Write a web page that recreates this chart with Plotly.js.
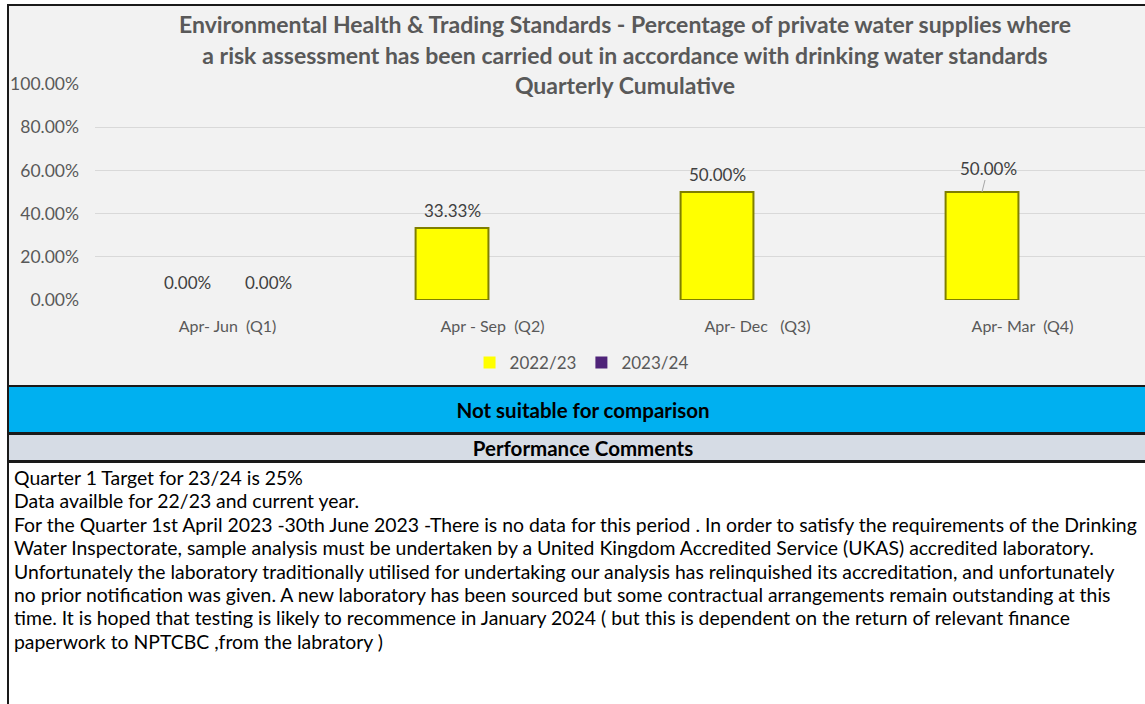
<!DOCTYPE html>
<html>
<head>
<meta charset="utf-8">
<script src="https://cdn.plot.ly/plotly-3.0.1.min.js"></script>
<style>
html,body{margin:0;padding:0;width:1145px;height:704px;overflow:hidden;background:#ffffff;font-family:Lato,"Open Sans",sans-serif;}
#box{position:absolute;left:7px;top:4px;width:1160px;height:383px;box-sizing:border-box;border:2px solid #1a1a1a;background:#f2f2f2;}
#chart{position:absolute;left:0;top:0;width:1160px;height:386px;}
#band1{position:absolute;left:7px;top:387px;width:1150px;height:48px;box-sizing:border-box;border-left:2px solid #1a1a1a;border-bottom:3px solid #1a1a1a;background:#00b0f0;display:flex;align-items:center;justify-content:center;font-weight:bold;font-size:20.5px;color:#000;}
#band2{position:absolute;left:7px;top:435px;width:1150px;height:28px;box-sizing:border-box;border-left:2px solid #1a1a1a;border-bottom:3px solid #1a1a1a;background:#d6dce5;display:flex;align-items:center;justify-content:center;font-weight:bold;font-size:20.5px;color:#000;}
#comments{position:absolute;left:7px;top:463px;width:1160px;height:260px;box-sizing:border-box;border-left:2px solid #1a1a1a;background:#fff;padding:3px 0 0 5px;font-size:19.4px;line-height:23.4px;color:#000;white-space:nowrap;}
</style>
</head>
<body>
<div id="box"></div>
<div id="chart"></div>
<div id="band1"></div>
<div id="band2"></div>
<div id="comments"></div>
<script>
// ---- data ----
const categories = ['Apr-\u00a0Jun\u00a0\u00a0(Q1)', 'Apr\u00a0-\u00a0Sep\u00a0\u00a0(Q2)', 'Apr-\u00a0Dec\u00a0\u00a0\u00a0(Q3)', 'Apr-\u00a0Mar\u00a0\u00a0(Q4)'];
const seriesNames = ['2022/23', '2023/24'];
const values2223 = [0, 0.3333, 0.5, 0.5];
const values2324 = [0, null, null, null];
const yTickVals = [0, 0.2, 0.4, 0.6, 0.8, 1.0];
const titleLines = [
  'Environmental Health &amp; Trading Standards - Percentage of private water supplies where',
  'a risk assessment has been carried out in accordance with drinking water standards',
  'Quarterly Cumulative'
];
const bandText = ['Not suitable for comparison', 'Performance Comments'];
const commentLines = [
  'Quarter 1 Target for 23/24 is 25%',
  'Data availble for 22/23 and current year.',
  'For the Quarter 1st April 2023 -30th June 2023 -There is no data for this period . In order to satisfy the requirements of the Drinking',
  'Water Inspectorate, sample analysis must be undertaken by a United Kingdom Accredited Service (UKAS) accredited laboratory.',
  'Unfortunately the laboratory traditionally utilised for undertaking our analysis has relinquished its accreditation, and unfortunately',
  'no prior notification was given. A new laboratory has been sourced but some contractual arrangements remain outstanding at this',
  'time. It is hoped that testing is likely to recommence in January 2024 ( but this is dependent on the return of relevant finance',
  'paperwork to NPTCBC ,from the labratory )'
];

document.getElementById('band1').textContent = bandText[0];
document.getElementById('band2').textContent = bandText[1];
// extend the band colours to the right edge
(function(){
  const b1 = document.createElement('div');
  b1.style.cssText = 'position:absolute;left:1157px;top:387px;width:20px;height:45px;background:#00b0f0;border-bottom:3px solid #1a1a1a;';
  const b2 = document.createElement('div');
  b2.style.cssText = 'position:absolute;left:1157px;top:435px;width:20px;height:25px;background:#d6dce5;border-bottom:3px solid #1a1a1a;';
  document.body.appendChild(b1); document.body.appendChild(b2);
})();
const cEl = document.getElementById('comments');
commentLines.forEach(function(t){ const d = document.createElement('div'); d.textContent = t; cEl.appendChild(d); });

const FONT = 'Lato, "Open Sans", sans-serif';

const traces = [
  {type:'bar', name: seriesNames[0], x: categories, y: values2223,
   marker:{color:'#ffff00', line:{color:'#7f7f00', width: values2223.map(function(v){ return v ? 2 : 0; })}}, hoverinfo:'none'},
  {type:'bar', name: seriesNames[1], x: categories, y: values2324,
   marker:{color:'#4f2479', line:{color:'#2a1040', width: values2324.map(function(v){ return v ? 1 : 0; })}}, hoverinfo:'none'}
];

function fmt(v){ return (v*100).toFixed(2) + '%'; }
const annotations = [];
[values2223, values2324].forEach(function(vals, s){
  vals.forEach(function(v, i){
    if (v === null) return;
    const a = {x: categories[i], y: v, xref:'x', yref:'y', text: fmt(v),
      showarrow:false, yanchor:'bottom', yshift:5, xshift: s === 0 ? -40.5 : 40.5,
      font:{family:FONT, size:17, color:'#404040'}};
    if (s === 0 && i === 3) {
      a.showarrow = true; a.arrowhead = 0; a.arrowwidth = 1; a.arrowcolor = '#a6a6a6';
      a.ax = 6; a.ay = -24; a.standoff = 0; a.yshift = 0; delete a.yanchor;
    }
    annotations.push(a);
  });
});

const titleText = titleLines.map(function(t){ return '<span style="font-size:23px">' + t + '</span>'; }).join('<br>');

const layout = {
  width:1160, height:386,
  margin:{l:95, r:5, t:84, b:86},
  paper_bgcolor:'rgba(0,0,0,0)', plot_bgcolor:'rgba(0,0,0,0)',
  font:{family:FONT, color:'#595959'},
  title:{text:titleText, font:{family:FONT, size:23.5, color:'#595959', weight:'bold'},
         x:0.5, xref:'paper', xanchor:'center', y:1 - 33/386, yref:'container', yanchor:'top'},
  barmode:'group', bargap:0.389, bargroupgap:0.1,
  xaxis:{type:'category', range:[-0.5, 3.5], showgrid:false, zeroline:false, showline:false,
         ticks:'', tickfont:{family:FONT, size:16, color:'#595959'}, ticklabelstandoff:15, fixedrange:true},
  yaxis:{range:[0, 1], tickvals:yTickVals, tickformat:'.2%', showgrid:true, gridcolor:'#d9d9d9', gridwidth:1,
         zeroline:false, showline:false, ticks:'', tickfont:{family:FONT, size:17.5, color:'#595959'},
         ticklabelstandoff:15, fixedrange:true},
  showlegend:true,
  legend:{orientation:'h', x:0.459, xanchor:'center', y:(386-363)/386, yref:'container', yanchor:'middle',
          font:{family:FONT, size:17, color:'#595959'}, bgcolor:'rgba(0,0,0,0)', itemwidth:30, traceorder:'normal'},
  annotations: annotations
};

Plotly.newPlot('chart', traces, layout, {staticPlot:true, displayModeBar:false});
</script>
</body>
</html>
